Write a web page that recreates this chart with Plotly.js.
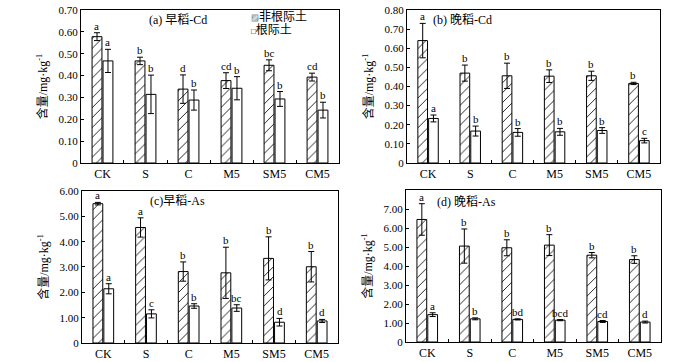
<!DOCTYPE html>
<html>
<head>
<meta charset="utf-8">
<script src="https://cdn.plot.ly/plotly-3.0.1.min.js"></script>
<style>html,body{margin:0;padding:0;background:#fff;}#chart{width:700px;height:362px;}</style>
</head>
<body>
<div id="chart"></div>
<script>
// ---------- data ----------
const categories = ['CK', 'S', 'C', 'M5', 'SM5', 'CM5'];
const seriesNames = ['非根际土', '根际土'];
const legendSymbols = ['▨', '□'];

// (a) 早稻-Cd
const aNonRhizo = [0.578, 0.467, 0.338, 0.377, 0.447, 0.393];
const aNonRhizoErr = [0.018, 0.017, 0.065, 0.036, 0.025, 0.018];
const aRhizo = [0.467, 0.314, 0.288, 0.342, 0.293, 0.242];
const aRhizoErr = [0.053, 0.088, 0.046, 0.053, 0.034, 0.036];
const aNonRhizoLetters = ['a', 'b', 'd', 'cd', 'bc', 'cd'];
const aRhizoLetters = ['a', 'b', 'b', 'b', 'b', 'b'];

// (b) 晚稻-Cd
const bNonRhizo = [0.640, 0.470, 0.456, 0.454, 0.456, 0.416];
const bNonRhizoErr = [0.090, 0.042, 0.066, 0.033, 0.024, 0.006];
const bRhizo = [0.233, 0.167, 0.160, 0.163, 0.170, 0.117];
const bRhizoErr = [0.018, 0.026, 0.020, 0.018, 0.015, 0.012];
const bNonRhizoLetters = ['a', 'b', 'b', 'b', 'b', 'b'];
const bRhizoLetters = ['a', 'b', 'b', 'b', 'b', 'c'];

// (c) 早稻-As
const cNonRhizo = [5.50, 4.56, 2.82, 2.77, 3.34, 3.01];
const cNonRhizoErr = [0.05, 0.38, 0.38, 1.01, 0.85, 0.60];
const cRhizo = [2.14, 1.15, 1.46, 1.38, 0.82, 0.87];
const cRhizoErr = [0.20, 0.16, 0.09, 0.13, 0.15, 0.06];
const cNonRhizoLetters = ['a', 'a', 'b', 'b', 'b', 'b'];
const cRhizoLetters = ['a', 'c', 'b', 'bc', 'd', 'd'];

// (d) 晚稻-As
const dNonRhizo = [6.45, 5.05, 4.96, 5.10, 4.57, 4.34];
const dNonRhizoErr = [0.83, 0.90, 0.42, 0.55, 0.14, 0.20];
const dRhizo = [1.44, 1.22, 1.19, 1.15, 1.08, 1.05];
const dRhizoErr = [0.10, 0.05, 0.03, 0.03, 0.05, 0.05];
const dNonRhizoLetters = ['a', 'b', 'b', 'b', 'b', 'b'];
const dRhizoLetters = ['a', 'b', 'bd', 'bcd', 'cd', 'd'];

const panelTitles = ['(a) 早稻-Cd', '(b) 晚稻-Cd', '(c)早稻-As', '(d) 晚稻-As'];
const yTitle = '含量/mg·kg<sup>-1</sup>';

const cdTicksA = [0, 0.1, 0.2, 0.3, 0.4, 0.5, 0.6, 0.7];
const cdTicksATxt = ['0', '0.10', '0.20', '0.30', '0.40', '0.50', '0.60', '0.70'];
const cdTicksB = [0, 0.1, 0.2, 0.3, 0.4, 0.5, 0.6, 0.7, 0.8];
const cdTicksBTxt = ['0', '0.10', '0.20', '0.30', '0.40', '0.50', '0.60', '0.70', '0.80'];
const asTicksC = [0, 1, 2, 3, 4, 5, 6];
const asTicksCTxt = ['0', '1.00', '2.00', '3.00', '4.00', '5.00', '6.00'];
const asTicksD = [0, 1, 2, 3, 4, 5, 6, 7];
const asTicksDTxt = ['0', '1.00', '2.00', '3.00', '4.00', '5.00', '6.00', '7.00'];

// ---------- build ----------
const FONT = 'Liberation Serif, "Times New Roman", "Noto Sans CJK SC", serif';
const traces = [];
const annotations = [];

function errStyle(arr) {
  return {type: 'data', array: arr, visible: true, color: '#000', thickness: 1, width: 3};
}

function addPanel(idx, non, nonErr, rh, rhErr, nonLet, rhLet) {
  const sfx = idx === 1 ? '' : String(idx);
  const xa = 'x' + sfx, ya = 'y' + sfx;
  traces.push({
    type: 'bar', name: seriesNames[0], x: categories, y: non,
    xaxis: xa, yaxis: ya, showlegend: false,
    error_y: errStyle(nonErr),
    marker: {color: '#fff', line: {color: '#000', width: 1},
      pattern: {shape: '/', fgcolor: '#000', bgcolor: '#fff', size: 7, solidity: 0.12}},
    hoverinfo: 'skip'
  });
  traces.push({
    type: 'bar', name: seriesNames[1], x: categories, y: rh,
    xaxis: xa, yaxis: ya, showlegend: false,
    error_y: errStyle(rhErr),
    marker: {color: '#fff', line: {color: '#000', width: 1}},
    hoverinfo: 'skip'
  });
  categories.forEach((c, i) => {
    annotations.push({x: c, y: non[i] + nonErr[i], xref: xa, yref: ya, text: nonLet[i],
      showarrow: false, yanchor: 'bottom', xshift: -5.5, yshift: -1, font: {size: 11}});
    annotations.push({x: c, y: rh[i] + rhErr[i], xref: xa, yref: ya, text: rhLet[i],
      showarrow: false, yanchor: 'bottom', xshift: 5.5, yshift: -1, font: {size: 11}});
  });
}

addPanel(1, aNonRhizo, aNonRhizoErr, aRhizo, aRhizoErr, aNonRhizoLetters, aRhizoLetters);
addPanel(2, bNonRhizo, bNonRhizoErr, bRhizo, bRhizoErr, bNonRhizoLetters, bRhizoLetters);
addPanel(3, cNonRhizo, cNonRhizoErr, cRhizo, cRhizoErr, cNonRhizoLetters, cRhizoLetters);
addPanel(4, dNonRhizo, dNonRhizoErr, dRhizo, dRhizoErr, dNonRhizoLetters, dRhizoLetters);

const titlePos = [[0.254, 0.945], [0.661, 0.945], [0.253, 0.445], [0.666, 0.442]];
panelTitles.forEach((t, i) => {
  annotations.push({text: t, xref: 'paper', yref: 'paper', x: titlePos[i][0], y: titlePos[i][1],
    xanchor: 'center', yanchor: 'middle', showarrow: false, font: {size: 12}});
});

// legend drawn as text in panel (a)
const legendY = [0.954, 0.918];
seriesNames.forEach((n, i) => {
  annotations.push({text: '<span style="font-size:8px">' + legendSymbols[i] + '</span>' + n,
    xref: 'paper', yref: 'paper', x: 0.355, y: legendY[i], xanchor: 'left', yanchor: 'middle',
    showarrow: false, font: {size: 12}});
});

function xAxis(domain, anchor) {
  return {domain: domain, anchor: anchor, type: 'category', showline: true, linecolor: '#000',
    linewidth: 1, mirror: true, ticks: 'inside', tickson: 'boundaries', ticklen: 3,
    tickcolor: '#000', showgrid: false, zeroline: false, tickfont: {size: 12}, fixedrange: true};
}
function yAxis(domain, anchor, range, tv, tt) {
  return {domain: domain, anchor: anchor, range: range, tickvals: tv, ticktext: tt,
    showline: true, linecolor: '#000', linewidth: 1, mirror: true, ticks: 'inside', ticklen: 3,
    tickcolor: '#000', showgrid: false, zeroline: false, tickfont: {size: 11},
    title: {text: yTitle, standoff: 8, font: {size: 12}}, fixedrange: true};
}

const layout = {
  width: 700, height: 362,
  margin: {l: 0, r: 0, t: 0, b: 0},
  paper_bgcolor: '#fff', plot_bgcolor: '#fff',
  font: {family: FONT, size: 11, color: '#000'},
  barmode: 'group', bargap: 0.49, bargroupgap: 0.1,
  showlegend: false,
  xaxis: xAxis([0.1157, 0.4843], 'y'),
  yaxis: yAxis([0.5497, 0.9724], 'x', [0, 0.7], cdTicksA, cdTicksATxt),
  xaxis2: xAxis([0.5814, 0.9429], 'y2'),
  yaxis2: yAxis([0.5497, 0.9724], 'x2', [0, 0.8], cdTicksB, cdTicksBTxt),
  xaxis3: xAxis([0.1171, 0.4829], 'y3'),
  yaxis3: yAxis([0.0525, 0.4724], 'x3', [0, 6], asTicksC, asTicksCTxt),
  xaxis4: xAxis([0.5800, 0.9443], 'y4'),
  yaxis4: yAxis([0.0552, 0.4751], 'x4', [0, 8], asTicksD, asTicksDTxt),
  annotations: annotations
};

Plotly.newPlot('chart', traces, layout, {staticPlot: true, displayModeBar: false});
</script>
</body>
</html>
